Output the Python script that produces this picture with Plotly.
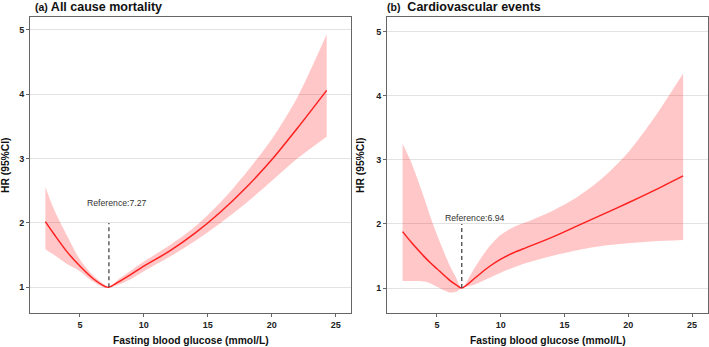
import plotly.graph_objects as go

# ---- data: (a) All cause mortality ----
a_x = [2.3, 3, 4, 5, 6, 7, 7.27, 8, 9, 10, 12, 14, 16, 18, 20, 22, 24.3]
a_hr = [2.02, 1.82, 1.55, 1.33, 1.14, 1.01, 1.0, 1.08, 1.2, 1.33, 1.56, 1.84, 2.17, 2.55, 2.98, 3.47, 4.06]
a_up = [2.56, 2.2, 1.8, 1.43, 1.19, 1.03, 1.0, 1.12, 1.26, 1.4, 1.65, 1.94, 2.32, 2.78, 3.3, 3.95, 4.93]
a_lo = [1.59, 1.5, 1.36, 1.25, 1.09, 0.99, 1.0, 1.04, 1.13, 1.25, 1.47, 1.72, 2.0, 2.31, 2.65, 3.0, 3.34]
a_ref = 7.27

# ---- data: (b) Cardiovascular events ----
b_x = [2.3, 3, 4, 4.5, 5, 6, 6.5, 6.94, 8, 9, 10, 11, 12, 14, 16, 18, 20, 22, 24.3]
b_hr = [1.88, 1.71, 1.49, 1.39, 1.3, 1.12, 1.05, 1.0, 1.16, 1.32, 1.45, 1.55, 1.63, 1.79, 1.97, 2.15, 2.33, 2.52, 2.75]
b_up = [3.25, 2.95, 2.4, 2.1, 1.83, 1.35, 1.16, 1.0, 1.33, 1.62, 1.83, 1.95, 2.03, 2.2, 2.42, 2.72, 3.12, 3.65, 4.35]
b_lo = [1.11, 1.11, 1.1, 1.07, 1.02, 0.93, 0.94, 1.0, 1.06, 1.15, 1.24, 1.32, 1.39, 1.5, 1.59, 1.66, 1.70, 1.73, 1.75]
b_ref = 6.94

x_ticks = [5, 10, 15, 20, 25]
y_ticks = [1, 2, 3, 4, 5]

FILL = "rgba(255,0,0,0.22)"
LINE = "#ff2020"
FONT = "Liberation Sans, Arial, sans-serif"

fig = go.Figure()

def add_panel(xs, hr, up, lo, ref, xa, ya):
    fig.add_trace(go.Scatter(x=xs, y=up, mode="lines", line=dict(width=0, shape="spline", smoothing=0.8),
                             xaxis=xa, yaxis=ya, showlegend=False, hoverinfo="skip"))
    fig.add_trace(go.Scatter(x=xs, y=lo, mode="lines", line=dict(width=0, shape="spline", smoothing=0.8),
                             fill="tonexty", fillcolor=FILL,
                             xaxis=xa, yaxis=ya, showlegend=False, hoverinfo="skip"))
    fig.add_trace(go.Scatter(x=xs, y=hr, mode="lines", line=dict(color=LINE, width=1.5, shape="spline", smoothing=0.8),
                             xaxis=xa, yaxis=ya, showlegend=False))
    fig.add_trace(go.Scatter(x=[ref, ref], y=[1, 2], mode="lines",
                             line=dict(color="#555555", width=1.4, dash="4px,3px"),
                             xaxis=xa, yaxis=ya, showlegend=False))

add_panel(a_x, a_hr, a_up, a_lo, a_ref, "x", "y")
add_panel(b_x, b_hr, b_up, b_lo, b_ref, "x2", "y2")

ax_common = dict(showline=True, mirror=True, linecolor="#666666", linewidth=1,
                 ticks="outside", ticklen=3, tickcolor="#666666", showgrid=False, zeroline=False,
                 tickfont=dict(family=FONT, size=9, color="#222222", weight="bold"),
                 tickvals=x_ticks)
ay_common = dict(showline=True, mirror=True, linecolor="#666666", linewidth=1,
                 ticks="outside", ticklen=3, tickcolor="#666666", showgrid=True,
                 gridcolor="#e3e3e3", gridwidth=1, zeroline=False,
                 tickfont=dict(family=FONT, size=9, color="#222222", weight="bold"),
                 tickvals=y_ticks)

ytop, ybot = 1 - 17 / 347, 1 - 313 / 347
fig.update_layout(
    width=709, height=347, margin=dict(l=0, r=0, t=0, b=0),
    plot_bgcolor="white", paper_bgcolor="white",
    xaxis=dict(domain=[30 / 709, 351 / 709], range=[1.1, 26.2], anchor="y", **ax_common),
    yaxis=dict(domain=[ybot, ytop], range=[0.6, 5.2], anchor="x", **ay_common),
    xaxis2=dict(domain=[387 / 709, 708 / 709], range=[1.08, 26.25], anchor="y2", **ax_common),
    yaxis2=dict(domain=[ybot, ytop], range=[0.61, 5.23], anchor="x2", **ay_common),
)

ann = []
# panel titles
ann.append(dict(text="<b><span style='font-size:10.5px'>(a)</span> All cause mortality</b>",
                x=33 / 709, y=1 - 7 / 347,
                xref="paper", yref="paper", xanchor="left", yanchor="middle", showarrow=False,
                font=dict(family=FONT, size=12.5, color="#111111")))
ann.append(dict(text="<b><span style='font-size:10.5px'>(b)</span>  Cardiovascular events</b>",
                x=385 / 709, y=1 - 7 / 347,
                xref="paper", yref="paper", xanchor="left", yanchor="middle", showarrow=False,
                font=dict(family=FONT, size=12.5, color="#111111")))
# axis titles
for cx in [(30 + 351) / 2 / 709, (387 + 708) / 2 / 709]:
    ann.append(dict(text="<b>Fasting blood glucose (mmol/L)</b>", x=cx, y=1 - 340 / 347,
                    xref="paper", yref="paper", xanchor="center", yanchor="middle", showarrow=False,
                    font=dict(family=FONT, size=10.3, color="#111111")))
for cx in [6 / 709, 361 / 709]:
    ann.append(dict(text="<b>HR (95%CI)</b>", x=cx, y=(ytop + ybot) / 2, textangle=-90,
                    xref="paper", yref="paper", xanchor="center", yanchor="middle", showarrow=False,
                    font=dict(family=FONT, size=10.3, color="#111111")))
# reference labels
ann.append(dict(text="Reference:7.27", x=7.93, y=2.31, xref="x", yref="y", showarrow=False,
                xanchor="center", yanchor="middle", font=dict(family=FONT, size=8.7, color="#333333")))
ann.append(dict(text="Reference:6.94", x=8.0, y=2.1, xref="x2", yref="y2", showarrow=False,
                xanchor="center", yanchor="middle", font=dict(family=FONT, size=8.7, color="#333333")))
fig.update_layout(annotations=ann)

fig.write_html("out.html", config={"displayModeBar": False},
               post_script="document.body.style.margin='0';document.body.style.overflow='hidden';")
